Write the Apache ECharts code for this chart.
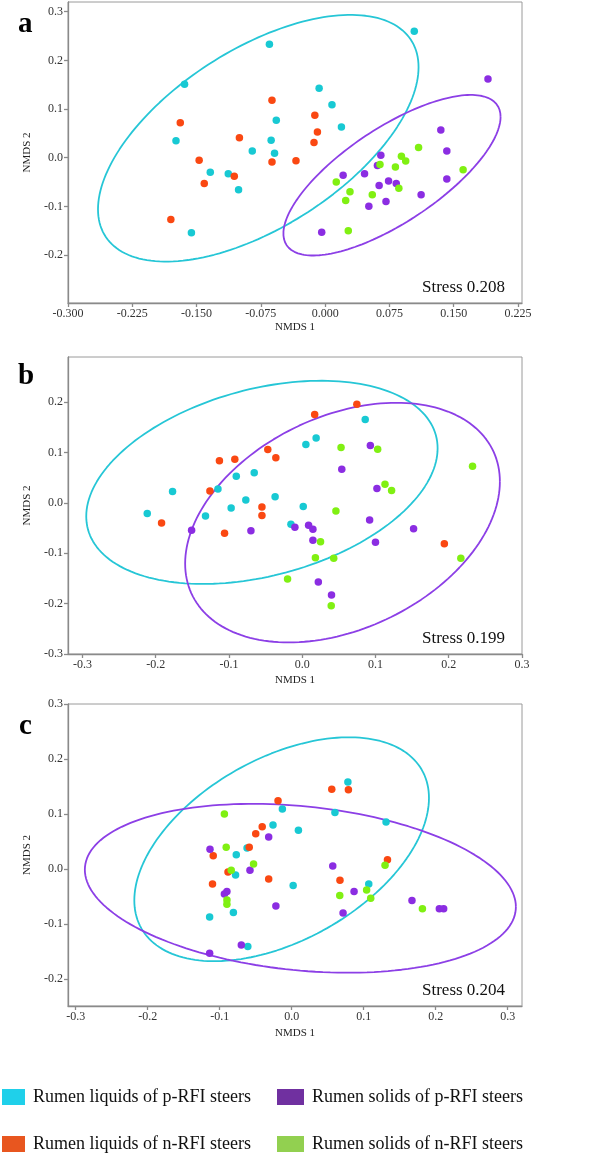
<!DOCTYPE html>
<html>
<head>
<meta charset="utf-8">
<script src="https://cdn.jsdelivr.net/npm/echarts@6/dist/echarts.min.js"></script>
<style>
html,body{margin:0;padding:0;background:#fff;}
#chart{width:597px;height:1157px;}
</style>
</head>
<body>
<div id="chart"></div>
<script>
// ---------- Data (NMDS coordinates) ----------
const seriesNames = ['Rumen liquids of p-RFI steers','Rumen liquids of n-RFI steers','Rumen solids of p-RFI steers','Rumen solids of n-RFI steers'];

// Panel a
const aLiqP = [[-0.065,0.233],[-0.164,0.151],[-0.057,0.077],[-0.174,0.035],[-0.063,0.036],[-0.085,0.014],[-0.059,0.009],[-0.134,-0.030],[-0.113,-0.033],[-0.101,-0.066],[-0.156,-0.154],[0.104,0.260],[-0.007,0.143],[0.008,0.109],[0.019,0.063]];
const aLiqN = [[-0.062,0.118],[-0.169,0.072],[-0.100,0.041],[-0.147,-0.005],[-0.062,-0.009],[-0.034,-0.006],[-0.106,-0.038],[-0.141,-0.053],[-0.180,-0.127],[-0.012,0.087],[-0.009,0.053],[-0.013,0.031]];
const aSolP = [[0.190,0.162],[0.135,0.057],[0.142,0.014],[0.065,0.005],[0.061,-0.016],[0.021,-0.036],[0.046,-0.033],[0.063,-0.057],[0.074,-0.048],[0.083,-0.053],[0.142,-0.044],[0.112,-0.076],[0.051,-0.100],[0.071,-0.090],[-0.004,-0.153]];
const aSolN = [[0.109,0.021],[0.089,0.003],[0.094,-0.007],[0.064,-0.014],[0.082,-0.019],[0.161,-0.025],[0.013,-0.050],[0.086,-0.063],[0.029,-0.070],[0.055,-0.076],[0.024,-0.088],[0.027,-0.150]];

// Panel b
const bLiqP = [[-0.177,0.023],[-0.2115,-0.021],[-0.132,-0.026],[-0.115,0.028],[-0.090,0.053],[-0.0655,0.060],[-0.077,0.006],[-0.097,-0.010],[-0.037,0.0125],[-0.0154,-0.042],[0.086,0.166],[0.005,0.116],[0.019,0.129],[0.0014,-0.007]];
const bLiqN = [[-0.047,0.106],[-0.036,0.090],[-0.113,0.084],[-0.092,0.087],[-0.126,0.024],[-0.055,-0.008],[-0.055,-0.025],[-0.192,-0.040],[-0.106,-0.060],[0.017,0.176],[0.0746,0.196],[0.194,-0.081]];
const bSolP = [[-0.151,-0.054],[-0.070,-0.055],[-0.010,-0.048],[0.093,0.114],[0.054,0.067],[0.102,0.029],[0.0087,-0.044],[0.0146,-0.052],[0.0146,-0.074],[0.092,-0.034],[0.152,-0.051],[0.100,-0.078],[0.022,-0.157],[0.040,-0.183]];
const bSolN = [[-0.020,-0.151],[0.053,0.110],[0.103,0.1065],[0.2325,0.073],[0.113,0.037],[0.122,0.025],[0.046,-0.016],[0.025,-0.077],[0.018,-0.109],[0.043,-0.110],[0.2165,-0.110],[0.0396,-0.204]];

// Panel c
const cLiqP = [[-0.013,0.109],[-0.026,0.080],[0.0093,0.0705],[-0.062,0.038],[-0.077,0.026],[-0.078,-0.011],[0.002,-0.030],[-0.081,-0.079],[-0.114,-0.087],[-0.061,-0.141],[0.078,0.158],[0.060,0.1026],[0.131,0.0856],[0.107,-0.027]];
const cLiqN = [[-0.019,0.124],[-0.041,0.077],[-0.050,0.064],[-0.059,0.0395],[-0.109,0.024],[-0.0885,-0.0055],[-0.032,-0.018],[-0.110,-0.027],[0.0556,0.145],[0.0787,0.144],[0.133,0.017],[0.067,-0.0206]];
const cSolP = [[-0.032,0.058],[-0.1135,0.036],[-0.058,-0.002],[-0.090,-0.041],[-0.0935,-0.0455],[-0.022,-0.067],[-0.070,-0.138],[-0.114,-0.153],[0.057,0.0055],[0.0866,-0.041],[0.0713,-0.080],[0.167,-0.057],[0.205,-0.072],[0.211,-0.072]];
const cSolN = [[-0.0935,0.100],[-0.091,0.0395],[-0.053,0.009],[-0.084,-0.002],[-0.090,-0.0565],[-0.090,-0.064],[0.1296,0.0067],[0.104,-0.038],[0.0667,-0.048],[0.1097,-0.053],[0.1815,-0.072]];

// Confidence ellipses: [centerX, centerY, sdX, sdY, correlation]
const aEllLiq = [-0.078, 0.040, 0.187, 0.2535, 0.576];
const aEllSol = [0.078, -0.036, 0.1267, 0.165, 0.727];
const bEllLiq = [-0.055, 0.041, 0.2398, 0.2018, 0.335];
const bEllSol = [0.055, -0.039, 0.2148, 0.238, 0.342];
const cEllLiq = [-0.014, 0.036, 0.2046, 0.2035, 0.457];
const cEllSol = [0.012, -0.035, 0.2993, 0.1535, -0.22];

// Axis tick labels
const aXTicks = [-0.300,-0.225,-0.150,-0.075,0.000,0.075,0.150,0.225];
const aYTicks = [-0.2,-0.1,0.0,0.1,0.2,0.3];
const bXTicks = [-0.3,-0.2,-0.1,0.0,0.1,0.2,0.3];
const bYTicks = [-0.3,-0.2,-0.1,0.0,0.1,0.2];
const cXTicks = [-0.3,-0.2,-0.1,0.0,0.1,0.2,0.3];
const cYTicks = [-0.2,-0.1,0.0,0.1,0.2,0.3];
const stressLabels = ['Stress 0.208','Stress 0.199','Stress 0.204'];
const panelLetters = ['a','b','c'];

// ---------- Build chart ----------
const pointColors = ['#18c9d3','#fa4812','#8b2de2','#80f012'];
const ellColors = ['#26c6d6','#8c3fe6'];
const legendColors = ['#1fd0ea','#e8561f','#7030a0','#92d050'];
const FONT = 'Liberation Serif, Times New Roman, serif';

function ellipse(p){
  const [cx,cy,sx,sy,r] = p, pts = [], n = 180, k = Math.sqrt(1 - r*r);
  for(let i=0;i<=n;i++){
    const t = 2*Math.PI*i/n;
    pts.push([cx + sx*Math.cos(t), cy + sy*(r*Math.cos(t) + k*Math.sin(t))]);
  }
  return pts;
}

const panels = [
  {grid:{left:68,top:2,width:454,height:301}, x:[-0.3,0.2297], y:[-0.2986,0.32], xt:aXTicks, yt:aYTicks, xd:3,
   groups:[aLiqP,aLiqN,aSolP,aSolN], ell:[aEllLiq,aEllSol], xGap:19},
  {grid:{left:68,top:357,width:454,height:297}, x:[-0.3197,0.3], y:[-0.3,0.29], xt:bXTicks, yt:bYTicks, xd:1,
   groups:[bLiqP,bLiqN,bSolP,bSolN], ell:[bEllLiq,bEllSol], xGap:21},
  {grid:{left:68,top:704,width:454,height:302}, x:[-0.3107,0.3198], y:[-0.249,0.3], xt:cXTicks, yt:cYTicks, xd:1,
   groups:[cLiqP,cLiqN,cSolP,cSolN], ell:[cEllLiq,cEllSol], xGap:22}
];
const letterPos = [[18,10],[18,362],[19,712]];

const grids=[], xAxes=[], yAxes=[], series=[], graphic=[];
const lineStyle = {color:'#8a8a8a', width:1.3};
panels.forEach((p,i)=>{
  grids.push(Object.assign({show:true, borderColor:'#9a9a9a', borderWidth:1, backgroundColor:'#fff'}, p.grid));
  xAxes.push({type:'value', gridIndex:i, min:p.x[0], max:p.x[1], name:'NMDS 1', nameLocation:'middle', nameGap:p.xGap,
    nameTextStyle:{fontFamily:FONT, fontSize:11, color:'#222'},
    axisLine:{show:true, onZero:false, lineStyle}, splitLine:{show:false},
    axisTick:{show:true, length:4, lineStyle, customValues:p.xt},
    axisLabel:{fontFamily:FONT, fontSize:12, color:'#333', margin:5, customValues:p.xt, formatter:v=>v.toFixed(p.xd)}});
  yAxes.push({type:'value', gridIndex:i, min:p.y[0], max:p.y[1], name:'NMDS 2', nameLocation:'middle', nameGap:27, nameRotate:90,
    nameTextStyle:{fontFamily:FONT, fontSize:11, color:'#222'},
    axisLine:{show:true, onZero:false, lineStyle}, splitLine:{show:false},
    axisTick:{show:true, length:4, lineStyle, customValues:p.yt},
    axisLabel:{fontFamily:FONT, fontSize:12, color:'#333', margin:5, customValues:p.yt, formatter:v=>v.toFixed(1)}});
  p.ell.forEach((e,j)=>{
    series.push({type:'line', xAxisIndex:i, yAxisIndex:i, data:ellipse(e), showSymbol:false, silent:true, z:1,
      lineStyle:{color:ellColors[j], width:1.8}, animation:false});
  });
  p.groups.forEach((g,j)=>{
    series.push({type:'scatter', name:seriesNames[j], xAxisIndex:i, yAxisIndex:i, data:g, symbolSize:7.5, z:3,
      itemStyle:{color:pointColors[j], opacity:1}, animation:false});
  });
  const bottom = p.grid.top + p.grid.height;
  graphic.push({type:'text', left:422, top:bottom-24, style:{text:stressLabels[i], font:'17px '+FONT, fill:'#111'}});
  graphic.push({type:'text', left:letterPos[i][0], top:letterPos[i][1], style:{text:panelLetters[i], font:'bold 29px '+FONT, fill:'#000'}});
});

const legendText = {fontFamily:FONT, fontSize:18, color:'#111', padding:[0,0,0,3]};
const legendPos = [[-3,1083],[-3,1130],[272,1083],[272,1130]];
const legends = seriesNames.map((n,j)=>({
  left:legendPos[j][0], top:legendPos[j][1], itemWidth:j<2?23:27, itemHeight:16, icon:'rect', textStyle:legendText,
  selectedMode:false, data:[{name:n, itemStyle:{color:legendColors[j]}}]
}));

const chart = echarts.init(document.getElementById('chart'), null, {renderer:'canvas'});
chart.setOption({backgroundColor:'#fff', animation:false, grid:grids, xAxis:xAxes, yAxis:yAxes, series, graphic, legend:legends});
</script>
</body>
</html>
